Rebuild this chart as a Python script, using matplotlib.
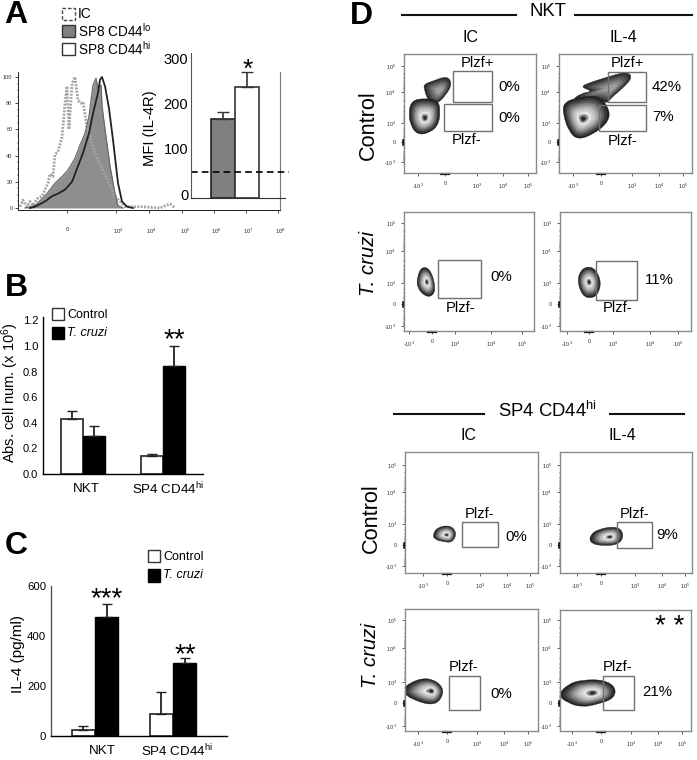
#!/usr/bin/env python3
import math

import matplotlib
matplotlib.use("Agg")
import matplotlib.pyplot as plt
from matplotlib.patches import PathPatch, Rectangle
from matplotlib.path import Path
from matplotlib.transforms import ScaledTranslation

W, H = 697, 760

plt.rcParams["font.family"] = ["Liberation Sans", "DejaVu Sans"]
plt.rcParams["mathtext.default"] = "regular"

# panel A histogram, x in reference pixels, y in % of max
hist_lo_x = [25, 35, 42, 48, 55, 62, 68, 75, 80, 85, 89, 93, 96, 98, 101, 102, 105, 110, 115, 118, 123]
hist_lo_y = [0, 2, 7, 12, 19, 24, 29, 38, 48, 57, 70, 94, 99, 91, 94, 78, 60, 32, 11, 2, 0]
hist_hi_x = [30, 35, 45, 52, 58, 65, 72, 78, 83, 89, 93, 98, 100, 102, 105, 109, 113, 118, 122, 127, 133]
hist_hi_y = [0, 1, 5, 9, 11, 14, 20, 32, 42, 57, 72, 88, 98, 100, 93, 76, 52, 19, 5, 1, 0]
hist_ic_x = [20, 23, 27, 30, 33, 37, 42, 48, 50, 53, 55, 58, 62, 65, 67, 69, 72, 75, 78, 81, 83, 87, 95,
             115, 125, 143, 160, 166, 170, 175]
hist_ic_y = [1, 6, 1, 5, 2, 7, 9, 19, 26, 24, 41, 43, 54, 80, 93, 60, 95, 100, 82, 80, 81, 62, 42,
             9, 1, 1, 0, 2, 3, 0]
hist_y_ticks = [0, 20, 40, 60, 80, 100]

# panel A inset
mfi_x = [0, 1]
mfi_mean = [175, 247]
mfi_err = [16, 33]
mfi_ic = 58
mfi_ticks = [0, 100, 200, 300]

# panel B
groups = ["NKT", r"SP4 CD44$^{hi}$"]
cells_control = [0.43, 0.14]
cells_control_err = [0.065, 0.016]
cells_cruzi = [0.297, 0.846]
cells_cruzi_err = [0.078, 0.156]
cells_ticks = [0.0, 0.2, 0.4, 0.6, 0.8, 1.0, 1.2]

# panel C
il4_control = [23, 90]
il4_control_err = [16, 85]
il4_cruzi = [478, 294]
il4_cruzi_err = [49, 19]
il4_ticks = [0, 200, 400, 600]

# panel D, in reference pixels
flow_tick_labels = ["-10$^{3}$", "0", "10$^{3}$", "10$^{4}$", "10$^{5}$"]
flow_y_labels = ["10$^{5}$", "10$^{4}$", "10$^{3}$", "0", "-10$^{3}$"]

nkt_ic_low = [(410, 113), (413, 102), (425, 100), (437, 102), (439, 112), (437, 125), (428, 132), (418, 133), (412, 125)]
nkt_ic_up = [(425, 85), (433, 82), (447, 77), (451, 85), (445, 95), (438, 102), (433, 103), (428, 97), (426, 90)]
nkt_il4_low = [(565, 105), (575, 100), (598, 97), (608, 112), (605, 123), (592, 133), (578, 138), (570, 130), (565, 115)]
nkt_il4_up = [(583, 87), (592, 83), (608, 78), (625, 73), (631, 78), (622, 88), (610, 98), (608, 102), (598, 98),
              (585, 98), (575, 100), (583, 93), (595, 91)]
nkt_tc_ic = [(418, 278), (422, 268), (430, 270), (435, 287), (432, 295), (425, 295), (418, 287)]
nkt_tc_il4 = [(578, 280), (583, 269), (593, 268), (600, 280), (598, 292), (592, 297), (583, 295)]
sp4_c_ic = [(434, 535), (438, 528), (450, 526), (456, 533), (452, 542), (443, 541), (436, 539)]
sp4_c_il4 = [(591, 537), (598, 530), (617, 527), (623, 535), (618, 544), (603, 545), (593, 543)]
sp4_tc_ic = [(405, 692), (410, 684), (428, 678), (443, 687), (440, 700), (430, 704), (413, 698), (408, 694)]
sp4_tc_il4 = [(561, 695), (570, 685), (583, 681), (603, 681), (614, 688), (612, 698), (598, 703), (583, 706), (570, 702)]

ZEBRA = ["#222222", "#3c3c3c", "#5c5c5c", "#808080", "#a0a0a0", "#bdbdbd", "#d0d0d0", "#e8e8e8", "#8c8c8c", "#2a2a2a"]
ZEBRA_SCALE = [1, 0.9, 0.8, 0.7, 0.6, 0.5, 0.4, 0.3, 0.2, 0.1]
DARK = ["#2a2a2a", "#444444", "#5e5e5e", "#767676", "#8c8c8c", "#a0a0a0"]
DARK_SCALE = [1, 0.85, 0.7, 0.55, 0.4, 0.25]
GROW = 1.1  # the spline cuts the corners of the read outline

PANELS = [
    dict(box=(404, 54, 536, 173), xt=[418, 445, 477, 503, 528], yt=[66, 92, 123, 142, 162],
         lobes=[(nkt_ic_up, (440, 90), DARK, DARK_SCALE), (nkt_ic_low, (425, 118), ZEBRA, ZEBRA_SCALE)],
         gates=[(453, 71, 492, 102), (444, 104, 492, 131)]),
    dict(box=(559, 54, 692, 173), xt=[573, 601, 632, 659, 683], yt=[66, 92, 123, 142, 162],
         lobes=[(nkt_il4_up, (612, 88), DARK, DARK_SCALE), (nkt_il4_low, (583, 119), ZEBRA, ZEBRA_SCALE)],
         gates=[(608, 72, 646, 102), (599, 105, 646, 131)]),
    dict(box=(404, 212, 534, 331), xt=[409, 432, 455, 491, 522], yt=[223, 251, 283, 304, 326],
         lobes=[(nkt_tc_ic, (427, 282), ZEBRA, ZEBRA_SCALE)], gates=[(438, 260, 481, 298)]),
    dict(box=(560, 212, 691, 331), xt=[567, 589, 613, 650, 678], yt=[223, 251, 283, 304, 326],
         lobes=[(nkt_tc_il4, (589, 282), ZEBRA, ZEBRA_SCALE)], gates=[(596, 261, 637, 300)]),
    dict(box=(405, 452, 538, 573), xt=[423, 447, 480, 507, 530], yt=[465, 492, 524, 545, 566],
         lobes=[(sp4_c_ic, (447, 535), ZEBRA, ZEBRA_SCALE)], gates=[(462, 522, 498, 547)]),
    dict(box=(560, 452, 692, 573), xt=[577, 601, 635, 662, 685], yt=[465, 492, 524, 545, 566],
         lobes=[(sp4_c_il4, (610, 537), ZEBRA, ZEBRA_SCALE)], gates=[(617, 522, 652, 548)]),
    dict(box=(405, 609, 538, 731), xt=[418, 447, 477, 504, 528], yt=[620, 648, 682, 703, 726],
         lobes=[(sp4_tc_ic, (432, 691), ZEBRA, ZEBRA_SCALE)], gates=[(449, 676, 480, 710)]),
    dict(box=(560, 610, 691, 731), xt=[572, 601, 631, 658, 682], yt=[620, 648, 682, 703, 726],
         lobes=[(sp4_tc_il4, (593, 693), ZEBRA, ZEBRA_SCALE)], gates=[(603, 676, 634, 710)]),
]


def px_axes(fig, left, top, right, bottom):
    return fig.add_axes([left / W, 1 - bottom / H, (right - left) / W, (bottom - top) / H])


def smooth_path(points):
    # closed quadratic spline through the midpoints of the outline
    mids = [((a[0] + b[0]) / 2, (a[1] + b[1]) / 2) for a, b in zip(points, points[1:] + points[:1])]
    verts = [mids[-1]]
    codes = [Path.MOVETO]
    for ctrl, mid in zip(points, mids):
        verts += [ctrl, mid]
        codes += [Path.CURVE3, Path.CURVE3]
    return Path(verts, codes)


def draw_lobe(ax, outline, center, colors, scales):
    for color, scale in zip(colors, scales):
        s = scale * GROW
        points = [(center[0] + (x - center[0]) * s, center[1] + (y - center[1]) * s) for x, y in outline]
        ax.add_patch(PathPatch(smooth_path(points), facecolor=color, edgecolor=color, lw=0.3))


def log_minors(majors):
    # log spaced minor ticks between each pair of decade ticks
    out = []
    for a, b in zip(majors, majors[1:]):
        out += [a + (b - a) * math.log10(k) for k in range(2, 10)]
    return out


def draw_flow(fig, panel):
    left, top, right, bottom = panel["box"]
    ax = px_axes(fig, left, top, right, bottom)
    ax.set_xlim(left, right)
    ax.set_ylim(bottom, top)
    for spine in ax.spines.values():
        spine.set_color("#8a8a8a")
        spine.set_linewidth(1.0)
    for lobe in panel["lobes"]:
        draw_lobe(ax, *lobe)
    for x0, y0, x1, y1 in panel["gates"]:
        ax.add_patch(Rectangle((x0, y0), x1 - x0, y1 - y0, fill=False, edgecolor="#707070", lw=1.0))
    ax.set_xticks(panel["xt"], flow_tick_labels, fontsize=4, color="#333333")
    ax.set_yticks(panel["yt"], flow_y_labels, fontsize=4, color="#333333")
    ax.set_xticks(log_minors(panel["xt"]), minor=True)
    ax.set_yticks(log_minors(panel["yt"]), minor=True)
    ax.tick_params(length=2, width=0.5, pad=4, color="#222222")
    ax.tick_params(which="minor", length=1, width=0.35, color="#333333")
    ax.plot([panel["xt"][1] - 4, panel["xt"][1] + 4], [bottom + 1, bottom + 1], color="black", lw=1.6, clip_on=False)
    ax.plot([left - 1, left - 1], [panel["yt"][3] - 2, panel["yt"][3] + 2], color="black", lw=1.8, clip_on=False)


def style_bar_axes(ax, tick_size):
    ax.spines["top"].set_visible(False)
    ax.spines["right"].set_visible(False)
    ax.spines["left"].set_linewidth(1.0)
    ax.spines["bottom"].set_linewidth(1.0)
    ax.tick_params(axis="y", length=0, labelsize=tick_size)
    ax.tick_params(axis="x", length=0, labelbottom=False)


def grouped_bars(ax, control, control_err, cruzi, cruzi_err, width):
    for i in range(len(control)):
        ax.bar(i - width / 2, control[i], width, color="white", edgecolor="#222222", lw=1.2)
        ax.bar(i + width / 2, cruzi[i], width, color="black", edgecolor="black", lw=1.0)
        ax.errorbar(i - width / 2, control[i], yerr=[[0], [control_err[i]]], color="#222222", capsize=3.5, lw=1.3)
        ax.errorbar(i + width / 2, cruzi[i], yerr=[[0], [cruzi_err[i]]], color="#222222", capsize=3.5, lw=1.3)


def main():
    fig = plt.figure(figsize=(W / 100, H / 100), dpi=100, facecolor="white")

    # A histogram
    ax = px_axes(fig, 18, 72, 280, 210)
    ax.set_xlim(18, 280)
    ax.set_ylim((208 - 210) / 1.31, (208 - 72) / 1.31)
    ax.plot(hist_ic_x, hist_ic_y, color="#a4a4a4", lw=2.0, ls=(0, (0.7, 0.5)))
    ax.fill_between(hist_lo_x, hist_lo_y, color="#8e8e8e", lw=0)
    ax.plot(hist_lo_x, hist_lo_y, color="#6a6a6a", lw=0.9)
    ax.plot(hist_hi_x, hist_hi_y, color="#222222", lw=1.3)
    ax.spines["top"].set_visible(False)
    ax.spines["right"].set_color("#777777")
    ax.spines["left"].set_linewidth(0.6)
    ax.spines["bottom"].set_linewidth(0.6)
    ax.set_yticks(hist_y_ticks, [str(v) for v in hist_y_ticks], fontsize=4, color="#333333")
    hist_x_ticks = [67, 116, 149, 182, 214, 246, 278]
    ax.set_xticks(hist_x_ticks, ["0", "10$^{3}$", "10$^{4}$", "10$^{5}$", "10$^{6}$", "10$^{7}$", "10$^{8}$"],
                  fontsize=4.4, color="#333333")
    ax.set_xticks(log_minors(hist_x_ticks) + [22, 30, 36, 42, 48, 54], minor=True)
    ax.set_yticks(range(0, 101, 5), minor=True)
    ax.tick_params(axis="x", length=2, width=0.5, pad=10)
    ax.tick_params(axis="y", length=2, width=0.5, pad=2)
    ax.tick_params(which="minor", length=1, width=0.35)
    shift = ScaledTranslation(3 / 100, 0, fig.dpi_scale_trans)
    for tick_label in ax.get_xticklabels()[1:]:
        tick_label.set_transform(tick_label.get_transform() + shift)
    ax.patch.set_alpha(0)

    # A inset
    inset = px_axes(fig, 191, 53, 289, 198)
    inset.set_xlim(-1.33, 2.75)
    inset.set_ylim(0, 322)
    inset.bar(mfi_x[0], mfi_mean[0], 1, color="#808080", edgecolor="#222222", lw=1.2)
    inset.bar(mfi_x[1], mfi_mean[1], 1, color="white", edgecolor="#333333", lw=1.2)
    inset.errorbar(mfi_x, mfi_mean, yerr=[[0, 0], mfi_err], fmt="none", ecolor="#333333", capsize=4, lw=1.2)
    inset.axhline(mfi_ic, color="black", lw=1.2, ls=(0, (4, 2.5)))
    inset.patch.set_alpha(0)
    inset.spines["top"].set_visible(False)
    inset.spines["right"].set_visible(False)
    inset.spines["left"].set_color("#555555")
    inset.spines["bottom"].set_color("#333333")
    inset.spines["bottom"].set_bounds(-1.33, 2.58)
    inset.set_xticks([])
    inset.set_yticks(mfi_ticks, [str(v) for v in mfi_ticks], fontsize=10.5)
    inset.tick_params(axis="y", length=0, pad=2)
    lift = ScaledTranslation(0, 4 / 100, fig.dpi_scale_trans)
    for tick_label in inset.get_yticklabels():
        tick_label.set_transform(tick_label.get_transform() + lift)

    # B
    axb = px_axes(fig, 43, 317, 203, 474)
    axb.set_xlim(-0.5, 1.5)
    axb.set_ylim(0, 157 / 128)
    grouped_bars(axb, cells_control, cells_control_err, cells_cruzi, cells_cruzi_err, 0.275)
    style_bar_axes(axb, 8)
    axb.set_yticks(cells_ticks, [f"{v:.1f}" for v in cells_ticks])

    # C
    axc = px_axes(fig, 51, 586, 227, 736)
    axc.set_xlim(-0.564, 1.692)
    axc.set_ylim(0, 600)
    grouped_bars(axc, il4_control, il4_control_err, il4_cruzi, il4_cruzi_err, 0.3)
    style_bar_axes(axc, 8.2)
    axc.set_yticks(il4_ticks, [str(v) for v in il4_ticks])
    axc.spines["left"].set_color("#555555")

    # D
    for panel in PANELS:
        draw_flow(fig, panel)

    # overlay for labels and legends, in reference pixels
    top = fig.add_axes([0, 0, 1, 1], zorder=20)
    top.set_xlim(0, W)
    top.set_ylim(H, 0)
    top.axis("off")

    def label(x, y, s, size, **kw):
        kw.setdefault("ha", "center")
        kw.setdefault("va", "center")
        top.text(x, y, s, fontsize=size, **kw)

    def box(x0, y0, x1, y1, **kw):
        top.add_patch(Rectangle((x0, y0), x1 - x0, y1 - y0, **kw))

    for x, y, s in [(16, 15, "A"), (16, 288, "B"), (16, 546, "C"), (361, 16, "D")]:
        label(x, y, s, 23, fontweight="bold")

    box(62, 8, 75, 20, fill=False, edgecolor="#444444", lw=1.0, ls=(0, (2.5, 1.5)))
    box(62, 25, 75, 37, facecolor="#808080", edgecolor="#333333", lw=1.0)
    box(62, 43, 75, 55, facecolor="white", edgecolor="#333333", lw=1.0)
    label(78, 14, "IC", 9.8, ha="left")
    label(78, 31, r"SP8 CD44$^{lo}$", 9.8, ha="left")
    label(78, 49, r"SP8 CD44$^{hi}$", 9.8, ha="left")
    label(150, 128, "MFI (IL-4R)", 10.6, rotation=90)
    label(248, 70, "*", 19)

    box(52, 308, 64, 320, facecolor="white", edgecolor="#333333", lw=1.0)
    box(52, 327, 64, 339, facecolor="black", edgecolor="black", lw=1.0)
    label(67, 314.5, "Control", 9, ha="left")
    label(67, 333.5, "T. cruzi", 9, ha="left", style="italic")
    label(10, 393, r"Abs. cell num. (x 10$^{6}$)", 10.5, rotation=90)
    label(86, 489, groups[0], 9.6)
    label(168, 489, groups[1], 9.6)
    label(174, 340, "**", 20)

    box(148, 550, 160, 562, facecolor="white", edgecolor="#333333", lw=1.0)
    box(148, 569, 160, 582, facecolor="black", edgecolor="black", lw=1.0)
    label(163, 556.5, "Control", 9, ha="left")
    label(163, 575.5, "T. cruzi", 9, ha="left", style="italic")
    label(18, 654, "IL-4 (pg/ml)", 11, rotation=90)
    label(102, 751, groups[0], 9.6)
    label(177, 751, groups[1], 9.6)
    label(107, 599, "***", 20)
    label(185, 655, "**", 20)

    for x0, x1, y in [(402, 516, 15), (575, 692, 15), (394, 484, 414), (610, 684, 414)]:
        top.plot([x0, x1], [y, y], color="#111111", lw=1.5)
    label(548, 11, "NKT", 13.3)
    label(547, 411, r"SP4 CD44$^{hi}$", 13.3)
    for x, y in [(471, 37), (468, 436)]:
        label(x, y, "IC", 11.5)
    for x, y in [(623, 37), (622, 436)]:
        label(x, y, "IL-4", 11.5)
    label(368, 125, "Control", 15.6, rotation=90)
    label(371, 518, "Control", 15.6, rotation=90)
    label(368, 263, "T. cruzi", 14.7, rotation=90, style="italic")
    label(371, 655, "T. cruzi", 14.7, rotation=90, style="italic")

    for x, y, s in [(477, 63, "Plzf+"), (467, 140, "Plzf-"), (627, 63, "Plzf+"), (623, 141, "Plzf-"),
                    (461, 308, "Plzf-"), (618, 308, "Plzf-"), (480, 514, "Plzf-"), (635, 514, "Plzf-"),
                    (464, 667, "Plzf-"), (618, 667, "Plzf-")]:
        label(x, y, s, 10.6)
    for x, y, s in [(509, 87, "0%"), (509, 118, "0%"), (667, 87, "42%"), (663, 117, "7%"),
                    (501, 277, "0%"), (659, 280, "11%"), (516, 537, "0%"), (667, 535, "9%"),
                    (501, 694, "0%"), (657, 692, "21%")]:
        label(x, y, s, 10.8)
    label(670, 627, "* *", 20)

    fig.savefig("out.png", dpi=100, facecolor="white")


if __name__ == "__main__":
    main()
